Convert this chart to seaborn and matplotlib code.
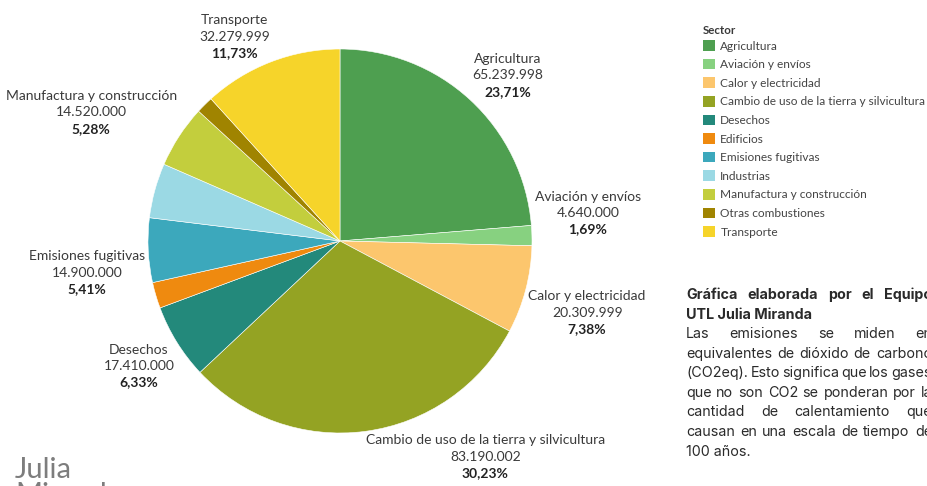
import matplotlib
matplotlib.use("Agg")
import matplotlib.pyplot as plt
from matplotlib.patches import Patch
from matplotlib.offsetbox import TextArea, VPacker, AnnotationBbox
import numpy as np
import seaborn as sns

# Emisiones por sector (toneladas CO2eq)
sectors = ["Agricultura", "Aviación y envíos", "Calor y electricidad",
           "Cambio de uso de la tierra y silvicultura", "Desechos", "Edificios",
           "Emisiones fugitivas", "Industrias", "Manufactura y construcción",
           "Otras combustiones", "Transporte"]
emissions = [65239998, 4640000, 20309999, 83190002, 17410000, 6020000,
             14900000, 12670000, 14520000, 3990000, 32279999]
colors = ["#4e9f50", "#87d180", "#fcc66d", "#94a323", "#23897b", "#ef8a0f",
          "#3ca8bc", "#9bd9e4", "#c3ce3d", "#a08400", "#f6d42a"]
# sectors whose label is shown on the chart
labelled = ["Agricultura", "Aviación y envíos", "Calor y electricidad",
            "Cambio de uso de la tierra y silvicultura", "Desechos",
            "Emisiones fugitivas", "Manufactura y construcción", "Transporte"]

note_title = ["Gráfica elaborada por el Equipo", "UTL Julia Miranda"]
note_body = ["Las emisiones se miden en",
             "equivalentes de dióxido de carbono",
             "(CO2eq). Esto significa que los gases",
             "que no son CO2 se ponderan por la",
             "cantidad de calentamiento que",
             "causan en una escala de tiempo de",
             "100 años."]

sns.set_theme(style="white")
plt.rcParams["font.family"] = ["Lato", "DejaVu Sans"]
txt_color = "#3a3a3a"

W, H = 927, 486
fig = plt.figure(figsize=(W / 100, H / 100), dpi=100)
ax = fig.add_axes([148 / W, 53 / H, 384 / W, 384 / H])
wedges, _ = ax.pie(emissions, colors=colors, startangle=90, counterclock=False,
                   wedgeprops=dict(linewidth=0.4, edgecolor="white"))
ax.set_xlim(-1, 1)
ax.set_ylim(-1, 1)
ax.set_aspect("equal")
ax.axis("off")

total = sum(emissions)
for w, name, val in zip(wedges, sectors, emissions):
    if name not in labelled:
        continue
    ang = np.deg2rad((w.theta1 + w.theta2) / 2)
    x, y = np.cos(ang), np.sin(ang)
    pct = f"{100 * val / total:.2f}%".replace(".", ",")
    num = f"{val:,}".replace(",", ".")
    box = VPacker(children=[
        TextArea(name, textprops=dict(fontsize=10, color=txt_color)),
        TextArea(num, textprops=dict(fontsize=10, color=txt_color)),
        TextArea(pct, textprops=dict(fontsize=10, color="#222222", fontweight="bold")),
    ], align="center", pad=0, sep=3.2)
    ab = AnnotationBbox(box, (1.015 * x, 1.015 * y), xycoords="data",
                        box_alignment=(0 if x > 0 else 1, 0 if y > 0 else 1),
                        frameon=False, pad=0, annotation_clip=False)
    ax.add_artist(ab)

# legend
handles = [Patch(facecolor=c, edgecolor="none") for c in colors]
leg = fig.legend(handles, sectors, loc="upper left", bbox_to_anchor=(703 / W, 1 - 25 / H),
                 frameon=False, fontsize=8.6, title="Sector", handlelength=1.0,
                 handleheight=1.0, handletextpad=0.45, labelspacing=0.6,
                 borderaxespad=0, borderpad=0)
leg.get_title().set_fontsize(8.3)
leg.get_title().set_fontweight("bold")
leg.get_title().set_color(txt_color)
leg._legend_box.align = "left"
leg._legend_box.sep = 3
for t in leg.get_texts():
    t.set_color("#444444")

# justified note text
renderer = fig.canvas.get_renderer()


def justified(lines, y0, bold, last_left):
    x0, width, step = 686, 246, 19.6
    for i, line in enumerate(lines):
        words = line.split()
        ypix = y0 + i * step
        kw = dict(fontsize=10.3, color="#2a2a2a", fontweight="bold" if bold else "normal",
                  va="baseline", ha="left", family=["Inter", "DejaVu Sans"])
        if last_left and i == len(lines) - 1:
            fig.text(x0 / W, 1 - ypix / H, line, **kw)
            continue
        widths = []
        for wd in words:
            t = fig.text(0, 0, wd, **kw)
            widths.append(t.get_window_extent(renderer).width)
            t.remove()
        gap = (width - sum(widths)) / max(len(words) - 1, 1)
        xp = x0
        for wd, wdw in zip(words, widths):
            fig.text(xp / W, 1 - ypix / H, wd, **kw)
            xp += wdw + gap


justified(note_title, 299, True, True)
justified(note_body, 338, False, True)

# logo
fig.text(15 / W, 1 - 478 / H, "Julia", fontsize=21, color="#7d7d7d", va="baseline")
fig.text(15 / W, 1 - 503 / H, "Miranda", fontsize=21, color="#7d7d7d", va="baseline")

fig.savefig("out.png", dpi=100)
